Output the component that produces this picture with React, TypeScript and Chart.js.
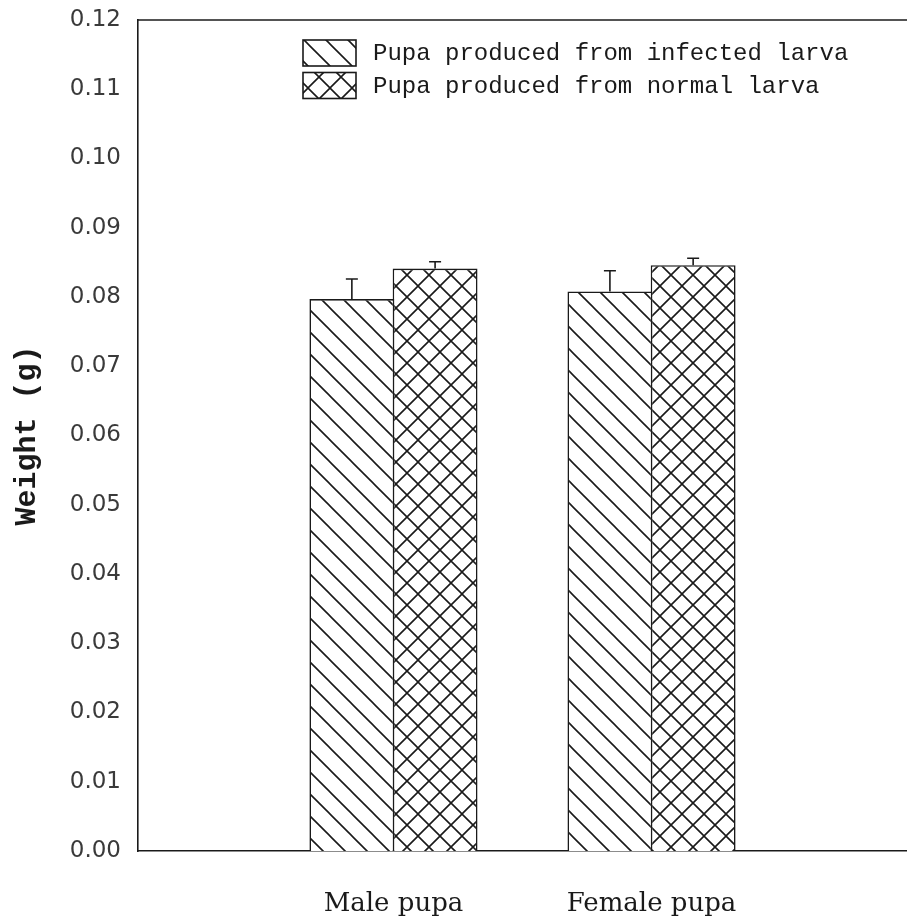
import React, { useEffect, useRef } from 'react';
import { Chart, registerables } from 'chart.js';

Chart.register(...registerables);

// ---- data ----
const categories = ['Male pupa', 'Female pupa'];
const seriesLabels = ['Pupa produced from infected larva', 'Pupa produced from normal larva'];
const infectedMeans = [0.0797, 0.0808];
const infectedErrors = [0.0029, 0.003];
const normalMeans = [0.0841, 0.0846];
const normalErrors = [0.001, 0.001];
const yTickValues = [0.0, 0.01, 0.02, 0.03, 0.04, 0.05, 0.06, 0.07, 0.08, 0.09, 0.1, 0.11, 0.12];
const yAxisTitle = 'Weight (g)';

const INK = '#1a1a1a';

function makeHatch(cross: boolean, size = 22, lw = 1.6): CanvasPattern | string {
  const c = document.createElement('canvas');
  c.width = size;
  c.height = size;
  const g = c.getContext('2d');
  if (!g) return '#fff';
  g.fillStyle = '#ffffff';
  g.fillRect(0, 0, size, size);
  g.strokeStyle = INK;
  g.lineWidth = lw;
  g.beginPath();
  g.moveTo(0, 0);
  g.lineTo(size, size);
  g.moveTo(-size / 2, size / 2);
  g.lineTo(size / 2, size * 1.5);
  g.moveTo(size / 2, -size / 2);
  g.lineTo(size * 1.5, size / 2);
  if (cross) {
    g.moveTo(0, size);
    g.lineTo(size, 0);
    g.moveTo(-size / 2, size / 2);
    g.lineTo(size / 2, -size / 2);
    g.moveTo(size / 2, size * 1.5);
    g.lineTo(size * 1.5, size / 2);
  }
  g.stroke();
  return g.createPattern(c, 'repeat') || '#fff';
}

const topFramePlugin = {
  id: 'topFrame',
  afterDraw(chart: any) {
    const { ctx, chartArea } = chart;
    ctx.save();
    ctx.strokeStyle = INK;
    ctx.lineWidth = 1.6;
    ctx.beginPath();
    ctx.moveTo(chartArea.left, chartArea.top);
    ctx.lineTo(chart.width, chartArea.top);
    ctx.stroke();
    ctx.restore();
  },
};

const errorBarPlugin = {
  id: 'errorBars',
  afterDatasetsDraw(chart: any) {
    const { ctx } = chart;
    const yScale = chart.scales.y;
    ctx.save();
    ctx.strokeStyle = INK;
    ctx.lineWidth = 1.6;
    chart.data.datasets.forEach((ds: any, i: number) => {
      const meta = chart.getDatasetMeta(i);
      meta.data.forEach((el: any, j: number) => {
        const v = ds.data[j].y;
        const e = ds.errors[j];
        const yTop = yScale.getPixelForValue(v + e);
        const yBar = el.y;
        ctx.beginPath();
        ctx.moveTo(el.x, yBar);
        ctx.lineTo(el.x, yTop);
        ctx.moveTo(el.x - 6, yTop);
        ctx.lineTo(el.x + 6, yTop);
        ctx.stroke();
      });
    });
    ctx.restore();
  },
};

const hatchLegendPlugin = {
  id: 'hatchLegend',
  afterDraw(chart: any) {
    const { ctx, chartArea } = chart;
    const x0 = chartArea.left + 165;
    const y0 = chartArea.top + 20;
    const boxW = 53;
    const boxH = 26;
    const rowH = 32.5;
    ctx.save();
    chart.data.datasets.forEach((ds: any, i: number) => {
      const y = y0 + i * rowH;
      ctx.fillStyle = ds.backgroundColor;
      ctx.fillRect(x0, y, boxW, boxH);
      ctx.strokeStyle = INK;
      ctx.lineWidth = 1.6;
      ctx.strokeRect(x0, y, boxW, boxH);
      ctx.fillStyle = INK;
      ctx.font = '24px "Liberation Mono", monospace';
      ctx.textAlign = 'left';
      ctx.textBaseline = 'middle';
      ctx.fillText(ds.label, x0 + 70, y + boxH / 2 + 1);
    });
    ctx.restore();
  },
};

export default function App() {
  const ref = useRef<HTMLCanvasElement | null>(null);

  useEffect(() => {
    const canvas = ref.current;
    if (!canvas) return;
    const infectedPattern = makeHatch(false);
    const normalPattern = makeHatch(true);

    const chart = new Chart(canvas, {
      type: 'bar',
      data: {
        datasets: [
          {
            label: seriesLabels[0],
            data: categories.map((_, i) => ({ x: i + 1, y: infectedMeans[i] })),
            errors: infectedErrors,
            backgroundColor: infectedPattern,
            borderColor: INK,
            borderWidth: 1.6,
            barPercentage: 1.02,
            categoryPercentage: 0.645,
          } as any,
          {
            label: seriesLabels[1],
            data: categories.map((_, i) => ({ x: i + 1, y: normalMeans[i] })),
            errors: normalErrors,
            backgroundColor: normalPattern,
            borderColor: INK,
            borderWidth: 1.6,
            barPercentage: 1.02,
            categoryPercentage: 0.645,
          } as any,
        ],
      },
      options: {
        animation: false,
        responsive: false,
        maintainAspectRatio: false,
        layout: { padding: { left: 0, top: 20, right: 0, bottom: 0 } },
        plugins: {
          legend: { display: false },
          tooltip: { enabled: false },
        },
        scales: {
          x: {
            type: 'linear',
            offset: false,
            min: 0.01,
            max: 2.99,
            grid: { display: false, drawTicks: false },
            border: { display: true, color: INK, width: 1.6 },
            afterBuildTicks: (scale: any) => {
              scale.ticks = categories.map((_, i) => ({ value: i + 1 }));
            },
            afterFit: (scale: any) => {
              scale.height = 71;
              scale.paddingLeft = 0;
              scale.paddingRight = 0;
            },
            ticks: {
              autoSkip: false,
              maxRotation: 0,
              padding: 38,
              color: INK,
              font: { family: '"DejaVu Serif", serif', size: 26 },
              callback: (v: any) => categories[Math.round(Number(v)) - 1] ?? '',
            },
          },
          y: {
            min: 0,
            max: 0.12,
            grid: { display: false, drawTicks: false },
            border: { display: true, color: INK, width: 1.6 },
            afterBuildTicks: (scale: any) => {
              scale.ticks = yTickValues.map((v) => ({ value: v }));
            },
            afterFit: (scale: any) => {
              scale.width = 138;
              scale.paddingTop = 0;
              scale.paddingBottom = 0;
            },
            ticks: {
              padding: 17,
              color: '#3a3a3a',
              font: { family: '"DejaVu Sans", sans-serif', size: 23 },
              callback: (v: any) => Number(v).toFixed(2),
            },
            title: {
              display: true,
              text: yAxisTitle,
              color: INK,
              padding: { top: 9, bottom: 0 },
              font: { family: '"Liberation Mono", monospace', size: 30, weight: 'bold' },
            },
          },
        },
      } as any,
      plugins: [topFramePlugin, errorBarPlugin, hatchLegendPlugin],
    });

    return () => chart.destroy();
  }, []);

  return (
    <div
      style={{
        position: 'fixed',
        left: 0,
        top: 0,
        width: 907,
        height: 922,
        overflow: 'hidden',
        background: '#ffffff',
      }}
    >
      <canvas ref={ref} width={907} height={922} style={{ display: 'block', width: 907, height: 922 }} />
    </div>
  );
}
